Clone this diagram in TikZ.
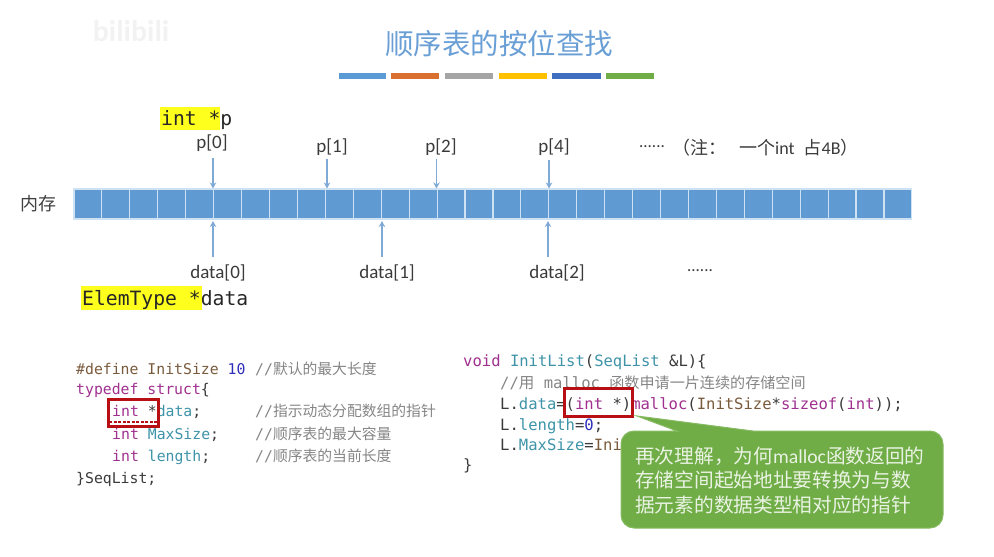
\documentclass[tikz,border=0pt]{standalone}
\usepackage{fontspec}
\setmainfont{Carlito}
\setmonofont{DejaVu Sans Mono}
\newfontfamily\cjk{Noto Sans CJK SC}
\usetikzlibrary{
  arrows.meta
}
\definecolor{cellblue}{HTML}{5F9BD2}
\definecolor{cellline}{HTML}{CFE2F3}
\definecolor{arrowblue}{HTML}{7FAAD6}
\definecolor{titleblue}{HTML}{6A9FD6}
\definecolor{tipgreen}{HTML}{70AD47}
\definecolor{tipline}{HTML}{86BB62}
\definecolor{tiptext}{HTML}{EAF3E3}
\definecolor{boxred}{HTML}{B80F14}
\definecolor{hiyellow}{HTML}{FFFF1E}
\definecolor{inktext}{HTML}{3A3A3A}
\definecolor{cskey}{HTML}{A0308F}
\definecolor{cstype}{HTML}{3E93A8}
\definecolor{cspre}{HTML}{7A5A3C}
\definecolor{csnum}{HTML}{2E2FB8}
\definecolor{cscom}{HTML}{858585}
\newcommand{\kw}[1]{\textcolor{cskey}{#1}}
\newcommand{\ty}[1]{\textcolor{cstype}{#1}}
\newcommand{\pp}[1]{\textcolor{cspre}{#1}}
\newcommand{\nm}[1]{\textcolor{csnum}{#1}}
\newcommand{\cmt}[1]{\textcolor{cscom}{#1}}
\tikzset{
  cell/.style={
    draw=cellline,
    fill=cellblue,
    line width=1.1pt,
    minimum width=27.93pt,
    minimum height=30pt,
    inner sep=0pt
  },
  ptr/.style={
    draw=arrowblue,
    line width=1.1pt,
    -{Stealth[length=6pt,width=6.5pt]}
  },
  lbl/.style={
    inner sep=0pt,
    text=inktext,
    font=\fontsize{19}{23}\selectfont
  },
  hlbox/.style={
    fill=hiyellow,
    inner sep=0pt
  },
  decl/.style={
    anchor=base west,
    inner sep=0pt,
    text=black!85,
    font=\ttfamily\fontsize{19.7}{23}\selectfont
  },
  codel/.style={
    anchor=base west,
    inner sep=0pt,
    text=inktext,
    font=\ttfamily\fontsize{14.8}{18}\selectfont
  },
  coder/.style={
    anchor=base west,
    inner sep=0pt,
    text=inktext,
    font=\ttfamily\fontsize{15.55}{18}\selectfont
  },
  redbox/.style={
    draw=boxred,
    line width=3pt
  },
  barseg/.style={
    minimum height=6pt,
    inner sep=0pt
  }
}

\begin{document}
\begin{tikzpicture}[x=1pt,y=-1pt]
  \useasboundingbox (0,0) rectangle (994,557);

  \node[text=black!5,font=\bfseries\fontsize{30}{32}\selectfont] (mark) at (131,31) {bilibili};

  \node[text=titleblue,font=\cjk\fontsize{28.5}{32}\selectfont] (title) at (499,44) {顺序表的按位查找};

  % coloured bars under the title
  \foreach \name/\xa/\barw/\col in {a/339/47/5B9BD5,b/391/48/D9702F,c/445/48/A5A5A5,d/499/48/FFC000,e/552/49/3F70C0,f/606/48/70AD47} {
    \definecolor{barcol}{HTML}{\col}
    \node[barseg,fill=barcol,minimum width=\barw pt,anchor=west] (bar\name) at (\xa,76) {};
  }

  % memory cells
  \foreach \i in {0,...,29}
    \node[cell] (c\i) at ({74+27.93*(\i+.5)},204) {};
  \node[lbl,text=black!75,font=\cjk\fontsize{18}{20}\selectfont] (mem) at (38,204) {内存};

  % declarations
  \node[hlbox,minimum width=60pt,minimum height=23pt,anchor=north west] (hlp) at (160,107) {};
  \node[decl] (declp) at (161,125) {int *p};
  \node[hlbox,minimum width=121pt,minimum height=24pt,anchor=north west] (hld) at (81,286) {};
  \node[decl] (decld) at (82,305) {ElemType *data};

  % upper labels and arrows
  \node[lbl] (p0) at (212,143) {p[0]};
  \node[lbl] (p1) at (332,147) {p[1]};
  \node[lbl] (p2) at (441,147) {p[2]};
  \node[lbl] (p4) at (554,147) {p[4]};
  \node[lbl,font=\fontsize{17}{20}\selectfont] (pdots) at (652,147) {......};
  \node[lbl,anchor=west,font=\fontsize{18}{20}\selectfont] (note) at (672,148)
    {{\cjk （注：}\hspace{13pt}{\cjk 一个}int\hspace{9pt}{\cjk 占}4B{\cjk ）}};
  \foreach \nme/\xa/\ya/\cl in {u0/213/158/c4,u1/327/159/c8,u2/436.5/159/c12,u4/549/160/c16} {
    \coordinate (\nme) at (\xa,\ya);
    \draw[ptr] (\nme) -- (\nme |- \cl.north);
  }

  % lower labels and arrows
  \node[lbl] (d0) at (218,273) {data[0]};
  \node[lbl] (d1) at (387,273) {data[1]};
  \node[lbl] (d2) at (557,273) {data[2]};
  \node[lbl,font=\fontsize{17}{20}\selectfont] (ddots) at (700,271) {......};
  \foreach \nme/\xa/\cl in {l0/213/c4,l1/382/c10,l2/548/c16} {
    \coordinate (\nme) at (\xa,257);
    \draw[ptr] (\nme) -- ([yshift=-1.5pt]\nme |- \cl.south);
  }

  % left code
  \node[codel] (la) at (76,374) {\pp{\#define InitSize} \nm{10}};
  \node[codel] (lb) at (76,394) {\kw{typedef struct}\{};
  \node[codel] (lc) at (112,416) {\kw{int} *\ty{data};};
  \node[codel] (ld) at (112,439) {\kw{int} \ty{MaxSize};};
  \node[codel] (le) at (112,461) {\kw{int} \ty{length};};
  \node[codel] (lf) at (76,483) {\}SeqList;};
  \node[codel] (ma) at (255,374) {\cmt{//{\cjk 默认的最大长度}}};
  \node[codel] (mc) at (255,416) {\cmt{//{\cjk 指示动态分配数组的指针}}};
  \node[codel] (md) at (255,439) {\cmt{//{\cjk 顺序表的最大容量}}};
  \node[codel] (me) at (255,461) {\cmt{//{\cjk 顺序表的当前长度}}};

  % right code
  \node[coder] (ra) at (463,366) {\kw{void} \ty{InitList}(\ty{SeqList} \&L)\{};
  \node[coder] (rb) at (500,388) {\cmt{//{\cjk 用} malloc {\cjk\fontsize{15.1}{18}\selectfont 函数申请一片连续的存储空间}}};
  \node[coder] (rc) at (500,409) {L.\ty{data}=(\kw{int} *)\kw{malloc}(\pp{InitSize}*\kw{sizeof}(\kw{int}));};
  \node[coder] (rd) at (500,430) {L.\ty{length}=\nm{0};};
  \node[coder] (re) at (500,450) {L.\ty{MaxSize}=\pp{Ini}};
  \node[coder] (rf) at (463,470) {\}};

  % red boxes
  \draw[redbox] (108,399) rectangle (158,426);
  \draw[boxred,line width=2.2pt,dash pattern=on 3pt off 1.5pt] (109,422) -- (157,422);
  \draw[redbox] (564,388) rectangle (632,416);

  % speech bubble
  \coordinate (tiptop) at (637,416);
  \draw[fill=tipgreen,draw=tipline,line width=1pt] (tiptop) -- (753,431)
    [rounded corners=13pt] -- (943,431) -- (943,528) -- (621,528) -- (621,431)
    [sharp corners] -- (677,431) -- cycle;
  \node[anchor=north west,inner sep=0pt,align=left,text=tiptext,
    font=\fontsize{19.7}{24.5}\selectfont] (tiptxt) at (635,446.5)
    {{\cjk 再次理解，为何}malloc{\cjk 函数返回的}\\
     {\cjk 存储空间起始地址要转换为与数}\\
     {\cjk 据元素的数据类型相对应的指针}};
\end{tikzpicture}
\end{document}
